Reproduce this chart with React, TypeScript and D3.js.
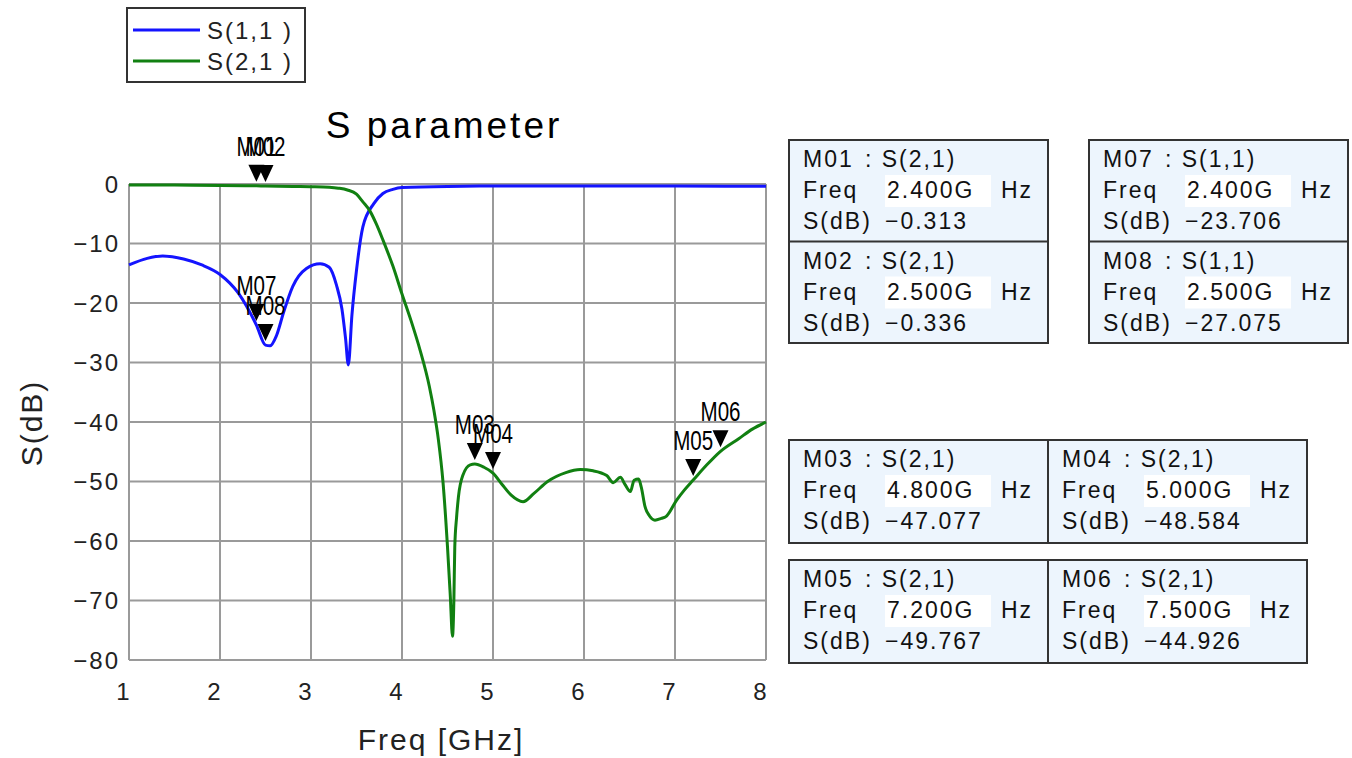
import React, { useEffect } from "react";
import * as d3 from "d3";

// ---------- data ----------
const freqS21 = [1.0, 1.5, 2.0, 2.4, 2.5, 2.8, 3.0, 3.2, 3.3, 3.4, 3.5, 3.57, 3.65, 3.72, 3.79, 3.9, 4.0, 4.1, 4.2, 4.3, 4.35, 4.4, 4.45, 4.5, 4.53, 4.555, 4.57, 4.58, 4.6, 4.62, 4.67, 4.75, 4.8, 4.9, 5.0, 5.1, 5.2, 5.33, 5.45, 5.6, 5.8, 5.96, 6.1, 6.25, 6.32, 6.4, 6.45, 6.51, 6.55, 6.6, 6.63, 6.67, 6.72, 6.78, 6.85, 6.9, 7.02, 7.1, 7.2, 7.35, 7.5, 7.7, 7.85, 8.0];
const s21 = [-0.15, -0.18, -0.24, -0.313, -0.336, -0.4, -0.45, -0.55, -0.7, -1.0, -1.7, -3.0, -4.6, -6.8, -9.4, -13.8, -18.5, -23, -28, -34, -38, -43, -50, -61, -69, -76, -70, -61, -56, -52.6, -48.9, -47.2, -47.077, -47.6, -48.584, -50.5, -52.3, -53.4, -52, -50, -48.5, -48, -48.2, -49, -50.2, -49.3, -50.5, -51.7, -49.8, -49.6, -51, -54.2, -55.8, -56.5, -56.2, -55.9, -53.1, -51.5, -49.767, -47.2, -44.926, -42.8, -41.2, -40];

const freqS11 = [1.0, 1.2, 1.37, 1.6, 1.8, 2.0, 2.2, 2.4, 2.5, 2.55, 2.62, 2.7, 2.8, 2.95, 3.1, 3.2, 3.28, 3.34, 3.38, 3.41, 3.45, 3.5, 3.57, 3.69, 3.79, 3.9, 4.0, 4.5, 5.0, 6.0, 7.0, 8.0];
const s11 = [-13.6, -12.5, -12.1, -12.6, -13.6, -15.2, -18.3, -23.706, -27.075, -27.2, -25.5, -21.5, -17.2, -14.2, -13.4, -14, -17, -21, -26, -30.4, -22, -14.5, -7.2, -3.3, -1.6, -0.9, -0.6, -0.4, -0.35, -0.35, -0.35, -0.38];

const xTicks = [1, 2, 3, 4, 5, 6, 7, 8];
const yTicks = [0, -10, -20, -30, -40, -50, -60, -70, -80];

const seriesNames = ["S(1,1)", "S(2,1)"];
const legendLabels = ["S(1,1 )", "S(2,1 )"];
const seriesColors = ["#1414ff", "#118011"];

const markerNames = ["M01", "M02", "M03", "M04", "M05", "M06", "M07", "M08"];
const markerTraces = ["S(2,1)", "S(2,1)", "S(2,1)", "S(2,1)", "S(2,1)", "S(2,1)", "S(1,1)", "S(1,1)"];
const markerFreqs = [2.4, 2.5, 4.8, 5.0, 7.2, 7.5, 2.4, 2.5];
const markerValues = [-0.313, -0.336, -47.077, -48.584, -49.767, -44.926, -23.706, -27.075];

const title = "S parameter";
const xTitle = "Freq [GHz]";
const yTitle = "S(dB)";

// ---------- layout ----------
const W = 1352, H = 758;
const PL = 129, PR = 766, PT = 184, PB = 660;
const FONT = "'Liberation Sans', Arial, sans-serif";

const x = d3.scaleLinear().domain([1, 8]).range([PL, PR]);
const y = d3.scaleLinear().domain([-80, 0]).range([PB, PT]);

const fmtMinus = (v: number, d: number) => (v < 0 ? "\u2212" : "") + Math.abs(v).toFixed(d);

const boxGroups = [
  { ids: [0, 1], x: 789, y: 140, dir: "v" },
  { ids: [6, 7], x: 1089, y: 140, dir: "v" },
  { ids: [2, 3], x: 789, y: 440, dir: "h" },
  { ids: [4, 5], x: 789, y: 560, dir: "h" },
];
const CW = 259, CH = 101.5;

function MarkerCell({ i, cx, cy }: { i: number; cx: number; cy: number }) {
  const ts = { fontFamily: FONT, fontSize: 23, letterSpacing: 2, fill: "#111" } as any;
  return (
    <g>
      <text x={cx + 14} y={cy + 27} style={ts}>{markerNames[i]}</text>
      <text x={cx + 76} y={cy + 27} style={ts}>: {markerTraces[i]}</text>
      <text x={cx + 14} y={cy + 58} style={ts}>Freq</text>
      <rect x={cx + 96} y={cy + 35} width={106} height={32} fill="#ffffff" />
      <text x={cx + 98} y={cy + 58} style={ts}>{markerFreqs[i].toFixed(3) + "G"}</text>
      <text x={cx + 212} y={cy + 58} style={ts}>Hz</text>
      <text x={cx + 14} y={cy + 89} style={ts}>S(dB)</text>
      <text x={cx + 96} y={cy + 89} style={ts}>{fmtMinus(markerValues[i], 3)}</text>
    </g>
  );
}

export default function App() {
  useEffect(() => {
    document.body.style.margin = "0";
    document.body.style.overflow = "hidden";
  }, []);

  const line = d3
    .line<[number, number]>()
    .x((d) => x(d[0]))
    .y((d) => y(d[1]))
    .curve(d3.curveMonotoneX);

  const d11 = line(freqS11.map((f, i) => [f, s11[i]] as [number, number])) || "";
  const d21 = line(freqS21.map((f, i) => [f, s21[i]] as [number, number])) || "";

  const tickStyle = { fontFamily: FONT, fontSize: 24, letterSpacing: 2, fill: "#222" } as any;

  return (
    <svg width={W} height={H} style={{ position: "absolute", left: 0, top: 0, background: "#fff" }}>
      <rect x={0} y={0} width={W} height={H} fill="#ffffff" />
      {/* grid */}
      {xTicks.map((t) => (
        <line key={"gx" + t} x1={x(t)} x2={x(t)} y1={PT} y2={PB} stroke="#9a9a9a" strokeWidth={2} />
      ))}
      {yTicks.map((t) => (
        <line key={"gy" + t} x1={PL} x2={PR} y1={y(t)} y2={y(t)} stroke="#9a9a9a" strokeWidth={2} />
      ))}
      {/* tick labels */}
      {yTicks.map((t) => (
        <text key={"ty" + t} x={120} y={y(t) + 8.5} textAnchor="end" style={tickStyle}>
          {fmtMinus(t, 0)}
        </text>
      ))}
      {xTicks.map((t) => (
        <text key={"tx" + t} x={x(t) - 5} y={700} textAnchor="middle" style={tickStyle}>
          {String(t)}
        </text>
      ))}
      {/* axis titles */}
      <text x={441} y={750} textAnchor="middle" style={{ fontFamily: FONT, fontSize: 30, letterSpacing: 2, fill: "#222" }}>
        {xTitle}
      </text>
      <text
        transform={`translate(42,423) rotate(-90)`}
        textAnchor="middle"
        style={{ fontFamily: FONT, fontSize: 30, letterSpacing: 2, fill: "#222" }}
      >
        {yTitle}
      </text>
      <text x={444} y={138} textAnchor="middle" style={{ fontFamily: FONT, fontSize: 37, letterSpacing: 3, fill: "#000" }}>
        {title}
      </text>
      {/* curves */}
      <path d={d11} fill="none" stroke={seriesColors[0]} strokeWidth={3} strokeLinejoin="round" />
      <path d={d21} fill="none" stroke={seriesColors[1]} strokeWidth={3} strokeLinejoin="round" />
      {/* markers */}
      {markerNames.map((m, i) => {
        const px = x(markerFreqs[i]);
        const py = y(markerValues[i]);
        const tip = py - 4;
        return (
          <g key={m}>
            <path d={`M${px},${tip} L${px - 8},${tip - 17} L${px + 8},${tip - 17} Z`} fill="#000" />
            <text
              x={px}
              y={py - 30}
              textAnchor="middle"
              textLength={40}
              lengthAdjust="spacingAndGlyphs"
              style={{ fontFamily: FONT, fontSize: 27, fill: "#000" }}
            >
              {m}
            </text>
          </g>
        );
      })}
      {/* legend */}
      <rect x={127} y={8} width={178} height={74} fill="#fff" stroke="#333" strokeWidth={2} />
      {seriesNames.map((s, i) => (
        <g key={s}>
          <line x1={133} x2={200} y1={30 + i * 31} y2={30 + i * 31} stroke={seriesColors[i]} strokeWidth={3} />
          <text x={207} y={39 + i * 31} style={{ fontFamily: FONT, fontSize: 24, letterSpacing: 2, fill: "#222" }}>
            {legendLabels[i]}
          </text>
        </g>
      ))}
      {/* marker boxes */}
      {boxGroups.map((g, gi) => {
        const w = g.dir === "v" ? CW : CW * 2;
        const h = g.dir === "v" ? CH * 2 : CH + 1.5;
        return (
          <g key={"b" + gi}>
            <rect x={g.x} y={g.y} width={w} height={h} fill="#edf5fd" stroke="#333" strokeWidth={2} />
            {g.dir === "v" ? (
              <line x1={g.x} x2={g.x + w} y1={g.y + CH} y2={g.y + CH} stroke="#333" strokeWidth={2} />
            ) : (
              <line x1={g.x + CW} x2={g.x + CW} y1={g.y} y2={g.y + h} stroke="#333" strokeWidth={2} />
            )}
            {g.ids.map((id, k) => (
              <MarkerCell
                key={id}
                i={id}
                cx={g.dir === "v" ? g.x : g.x + k * CW}
                cy={g.dir === "v" ? g.y + k * CH : g.y}
              />
            ))}
          </g>
        );
      })}
    </svg>
  );
}
